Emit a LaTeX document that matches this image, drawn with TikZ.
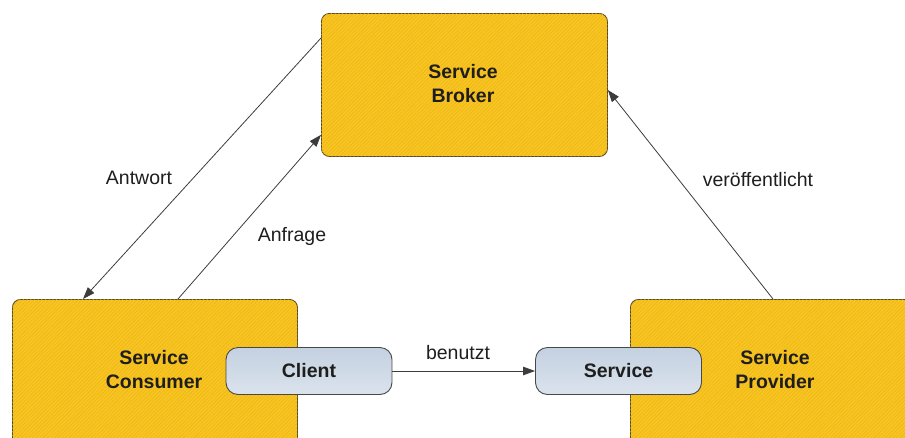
\documentclass[tikz,border=0pt]{standalone}
\usepackage{fontspec}
\setmainfont{Liberation Sans}
\usetikzlibrary{arrows.meta,patterns.meta}
\definecolor{boxfill}{RGB}{248,197,34}
\definecolor{boxhatch}{RGB}{236,182,24}
\definecolor{boxline}{RGB}{88,74,40}
\definecolor{pillfill}{RGB}{203,215,229}
\definecolor{pilltop}{RGB}{196,209,225}
\definecolor{pillline}{RGB}{72,72,72}
\definecolor{inkgray}{RGB}{30,30,30}
\definecolor{wiregray}{RGB}{60,60,60}
\tikzset{
  rolebox/.style={draw=boxline, line width=0.9pt, rounded corners=8pt,
    fill=boxfill, inner sep=0pt,
    postaction={pattern={Lines[angle=45,distance=2.6pt,line width=0.6pt]}, pattern color=boxhatch}},
  rolelabel/.style={font=\bfseries\fontsize{19.5}{24}\selectfont, text=inkgray, align=center},
  pill/.style={draw=pillline, line width=0.9pt, rounded corners=12pt,
    top color=pilltop, bottom color=pillfill!70!white, inner sep=0pt,
    minimum width=166pt, minimum height=47pt,
    font=\bfseries\fontsize{19.5}{24}\selectfont, text=inkgray},
  flow/.style={draw=wiregray, line width=0.8pt, -{Triangle[length=12pt,width=8.5pt]}},
  flowlabel/.style={font=\fontsize{19.5}{24}\selectfont, text=inkgray}
}
\begin{document}
\begin{tikzpicture}[x=1pt,y=-1pt]
\useasboundingbox (0,0) rectangle (905,437);
% three roles
\node[rolebox, minimum width=286pt, minimum height=143pt, anchor=north west] (broker) at (321,13) {};
\node[rolebox, minimum width=285pt, minimum height=180pt, anchor=north west] (consumer) at (12,299) {};
\node[rolebox, minimum width=300pt, minimum height=180pt, anchor=north west] (provider) at (630,299) {};
\node[rolelabel] (brokertext) at (463,84) {Service\\Broker};
\node[rolelabel] (consumertext) at (154,370) {Service\\Consumer};
\node[rolelabel] (providertext) at (775,370) {Service\\Provider};
% client and service endpoints
\node[pill] (client) at (309,371) {Client};
\node[pill] (service) at (618.5,371) {Service};
% interactions
\draw[flow] ([yshift=-25pt]broker.north west) -- ([xshift=71pt]consumer.north west);
\draw[flow] ([xshift=166pt]consumer.north west) -- ([yshift=22pt]broker.south west);
\draw[flow] ([xshift=143pt]provider.north west) -- ([yshift=-77pt]broker.north east);
\draw[flow] (client.east) -- (service.west);
% interaction labels
\node[flowlabel] (antwort) at (139,178) {Antwort};
\node[flowlabel] (anfrage) at (292,236) {Anfrage};
\node[flowlabel] (publ) at (758,180) {veröffentlicht};
\node[flowlabel] (benutzt) at (458,353) {benutzt};
\end{tikzpicture}
\end{document}
